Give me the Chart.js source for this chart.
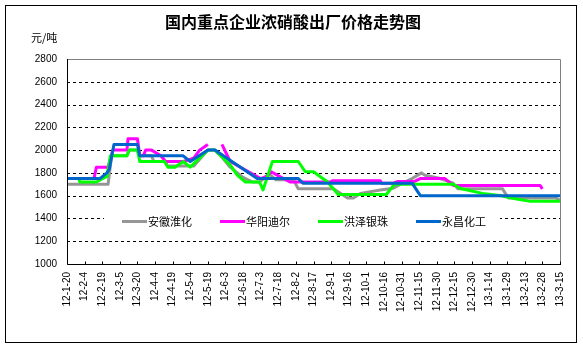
<!DOCTYPE html>
<html>
<head>
<meta charset="utf-8">
<script src="https://cdn.jsdelivr.net/npm/chart.js@4.4.1/dist/chart.umd.min.js"></script>
<style>
  html, body { margin: 0; padding: 0; background: #fff; }
  #wrap { width: 583px; height: 348px; }
</style>
</head>
<body>
<div id="wrap"><canvas id="c" width="583" height="348"></canvas></div>
<script>
// x axis: days since 12-1-20, one label every 15 days
const tickLabels = ['12-1-20','12-2-4','12-2-19','12-3-5','12-3-20','12-4-4','12-4-19','12-5-4','12-5-19','12-6-3',
  '12-6-18','12-7-3','12-7-18','12-8-2','12-8-17','12-9-1','12-9-16','12-10-1','12-10-16','12-10-31',
  '12-11-15','12-11-30','12-12-15','12-12-30','13-1-14','13-1-29','13-2-13','13-2-28','13-3-15'];

const seriesNames = ['安徽淮化', '华阳迪尔', '洪泽银珠', '永昌化工'];
const seriesColors = ['#969696', '#ff00ff', '#00ff00', '#0066cc'];

// 安徽淮化
const huaihuaDays   = [0, 35, 38, 51, 53, 60, 62, 72, 74, 83, 86, 108, 120, 126, 132, 139, 150, 158, 164, 172, 178, 193, 197, 227, 239, 244, 250, 267, 278, 285, 294, 302, 305, 318, 329, 333, 371, 376, 416, 420];
const huaihuaPrices = [1700, 1700, 1950, 1950, 2000, 2000, 1950, 1950, 1900, 1900, 1860, 1860, 2000, 2000, 1940, 1850, 1760, 1720, 1720, 1790, 1740, 1740, 1660, 1660, 1580, 1580, 1620, 1650, 1665, 1705, 1750, 1800, 1780, 1750, 1710, 1660, 1660, 1580, 1580, 1560];

// 华阳迪尔 (null = no data)
const huayangDays   = [0, 23, 25, 35, 39, 51, 52, 60, 62, 65, 67, 72, 80, 84, 99, 108, 113, 120, 126, 132, 139, 165, 170, 174, 179, 190, 224, 226, 267, 268, 278, 282, 296, 301, 322, 329, 403, 405];
const huayangPrices = [1750, 1750, 1850, 1850, 2000, 2000, 2100, 2100, 1950, 1950, 2000, 2000, 1950, 1900, 1900, 1930, 2000, 2050, null, 2050, 1900, 1750, 1770, 1810, 1780, 1720, 1720, 1730, 1730, 1710, 1710, 1725, 1725, 1750, 1750, 1690, 1690, 1660];

// 洪泽银珠
const hongzeDays   = [0, 10, 11, 25, 34, 37, 51, 53, 60, 62, 83, 86, 92, 99, 105, 119, 121, 126, 139, 145, 152, 164, 167, 175, 197, 203, 210, 222, 231, 272, 279, 329, 336, 354, 370, 383, 395, 420];
const hongzePrices = [1750, 1750, 1720, 1720, 1770, 1950, 1950, 2000, 2000, 1900, 1900, 1850, 1850, 1900, 1850, 1990, 2000, 2000, 1870, 1780, 1720, 1720, 1650, 1900, 1900, 1810, 1810, 1720, 1610, 1610, 1700, 1700, 1660, 1620, 1600, 1570, 1550, 1550];

// 永昌化工
const yongchangDays   = [0, 28, 34, 36, 40, 60, 62, 99, 105, 120, 126, 162, 197, 201, 294, 301, 420];
const yongchangPrices = [1750, 1750, 1800, 1830, 2050, 2050, 1950, 1950, 1900, 2000, 2000, 1750, 1750, 1710, 1710, 1600, 1600];

const yMin = 1000, yMax = 2800, yStep = 200;
const dayStep = 15, dayMax = 420;

const cjk = '"Noto Sans CJK SC", sans-serif';
const num = '"Liberation Sans", Arial, sans-serif';

function pts(days, prices) {
  return days.map((d, i) => ({ x: d, y: prices[i] }));
}

const allDays = [huaihuaDays, huayangDays, hongzeDays, yongchangDays];
const allPrices = [huaihuaPrices, huayangPrices, hongzePrices, yongchangPrices];

const datasets = seriesNames.map((name, i) => ({
  label: name,
  data: pts(allDays[i], allPrices[i]),
  borderColor: seriesColors[i],
  backgroundColor: seriesColors[i],
  borderWidth: 3,
  pointRadius: 0,
  tension: 0,
  spanGaps: false,
  borderJoinStyle: 'round',
  order: 3 - i
}));

const frame = {
  id: 'frame',
  beforeDraw(chart) {
    const { ctx, width, height } = chart;
    ctx.save();
    ctx.fillStyle = '#fff';
    ctx.fillRect(0, 0, width, height);
    ctx.restore();
  },
  beforeDatasetsDraw(chart) {
    const { ctx, chartArea: a, scales: { y } } = chart;
    ctx.save();
    ctx.lineWidth = 1;
    ctx.strokeStyle = '#000';
    ctx.setLineDash([3, 3]);
    y.ticks.forEach(t => {
      if (t.value <= yMin || t.value >= yMax) return;
      const py = Math.round(y.getPixelForValue(t.value)) + 0.5;
      ctx.beginPath(); ctx.moveTo(a.left, py); ctx.lineTo(a.right, py); ctx.stroke();
    });
    ctx.setLineDash([]);
    ctx.strokeStyle = '#808080';
    const top = Math.round(a.top) + 0.5, right = Math.round(a.right) + 0.5;
    ctx.beginPath();
    ctx.moveTo(a.left, top); ctx.lineTo(right, top); ctx.lineTo(right, a.bottom);
    ctx.stroke();
    ctx.restore();
  },
  afterDatasetsDraw(chart) {
    const { ctx, chartArea: a, scales: { x } } = chart;
    ctx.save();
    // axes
    ctx.strokeStyle = '#000';
    ctx.lineWidth = 1;
    const left = Math.round(a.left) + 0.5, bottom = Math.round(a.bottom) + 0.5;
    ctx.beginPath();
    ctx.moveTo(left, a.top); ctx.lineTo(left, bottom); ctx.lineTo(Math.round(a.right) + 1, bottom);
    ctx.stroke();
    // inside tick marks
    x.ticks.forEach(t => {
      const px = Math.round(x.getPixelForValue(t.value)) + 0.5;
      ctx.beginPath(); ctx.moveTo(px, bottom); ctx.lineTo(px, bottom - 3); ctx.stroke();
    });
    // legend inside plot area
    const ly = Math.round(a.bottom) - 43;
    ctx.fillStyle = '#fff';
    ctx.fillRect(a.left + 37, ly - 10, 396, 20);
    ctx.font = '11px ' + cjk;
    ctx.textBaseline = 'middle';
    chart.data.datasets.forEach((ds, i) => {
      const lx = a.left + 55 + i * 98;
      ctx.strokeStyle = ds.borderColor;
      ctx.lineWidth = 3;
      ctx.beginPath(); ctx.moveTo(lx, ly + 0.5); ctx.lineTo(lx + 25, ly + 0.5); ctx.stroke();
      ctx.fillStyle = '#000';
      ctx.fillText(ds.label, lx + 26, ly + 1);
    });
    ctx.restore();
  },
  afterDraw(chart) {
    const { ctx } = chart;
    ctx.save();
    ctx.fillStyle = '#000';
    ctx.textBaseline = 'middle';
    ctx.textAlign = 'center';
    ctx.font = 'bold 16px ' + cjk;
    ctx.fillText('国内重点企业浓硝酸出厂价格走势图', 293, 22);
    ctx.textAlign = 'left';
    ctx.font = '11px ' + cjk;
    ctx.fillText('元/吨', 31, 38);
    ctx.strokeStyle = '#000';
    ctx.lineWidth = 1;
    ctx.strokeRect(5.5, 5.5, 571, 337);
    ctx.restore();
  }
};

new Chart(document.getElementById('c'), {
  type: 'line',
  data: { datasets },
  plugins: [frame],
  options: {
    responsive: false,
    animation: false,
    devicePixelRatio: 1,
    layout: { padding: { left: 0, right: 23, top: 59, bottom: 0 } },
    plugins: { legend: { display: false }, title: { display: false }, tooltip: { enabled: false } },
    scales: {
      x: {
        type: 'linear',
        min: 0,
        max: dayMax,
        grid: { display: false, drawTicks: false },
        border: { display: false },
        ticks: {
          stepSize: dayStep,
          autoSkip: false,
          maxRotation: 90,
          minRotation: 90,
          padding: 8,
          color: '#000',
          font: { family: num, size: 10 },
          callback: v => tickLabels[Math.round(v / dayStep)]
        },
        afterFit: s => { s.height = 84; }
      },
      y: {
        min: yMin,
        max: yMax,
        grid: { display: false, drawTicks: false },
        border: { display: false },
        ticks: { stepSize: yStep, padding: 10, color: '#000', font: { family: num, size: 10 }, callback: v => String(v) },
        afterFit: s => { s.width = 67; }
      }
    }
  }
});
</script>
</body>
</html>
